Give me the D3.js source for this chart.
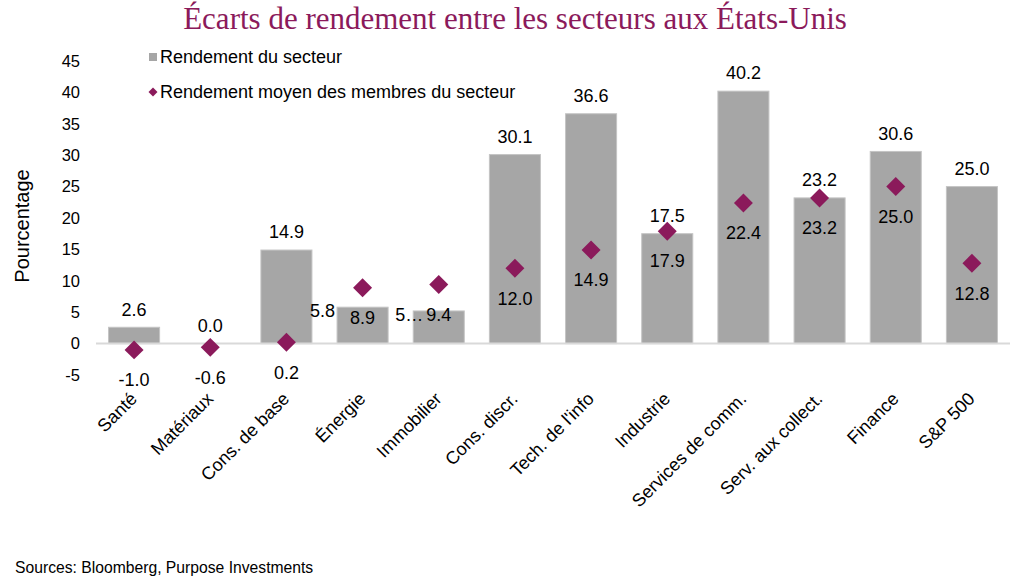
<!DOCTYPE html>
<html>
<head>
<meta charset="utf-8">
<script src="https://cdn.jsdelivr.net/npm/d3@7/dist/d3.min.js"></script>
<style>
  html, body { margin: 0; padding: 0; background: #fff; }
  svg { display: block; }
  text { font-family: "Liberation Sans", Arial, sans-serif; fill: #000; }
</style>
</head>
<body>
<svg id="chart" width="1024" height="586"></svg>
<script>
const categories = ["Santé", "Matériaux", "Cons. de base", "Énergie", "Immobilier", "Cons. discr.",
  "Tech. de l'info", "Industrie", "Services de comm.", "Serv. aux collect.", "Finance", "S&P 500"];
const sectorReturn = [2.6, 0.0, 14.9, 5.8, 5.2, 30.1, 36.6, 17.5, 40.2, 23.2, 30.6, 25.0];
const memberAvgReturn = [-1.0, -0.6, 0.2, 8.9, 9.4, 12.0, 14.9, 17.9, 22.4, 23.2, 25.0, 12.8];
const yTicks = [-5, 0, 5, 10, 15, 20, 25, 30, 35, 40, 45];
const seriesNames = ["Rendement du secteur", "Rendement moyen des membres du secteur"];
const titleText = "Écarts de rendement entre les secteurs aux États-Unis";
const yAxisTitle = "Pourcentage";
const sourceText = "Sources: Bloomberg, Purpose Investments";

const barColor = "#a6a6a6";
const markerColor = "#8b1a5b";

const svg = d3.select("#chart");

const x = d3.scaleBand().domain(categories).range([96, 1010]).paddingInner(0.33).paddingOuter(0.165);
const y = d3.scaleLinear().domain([-5, 45]).range([375, 61]);

// Title
svg.append("text")
  .attr("x", 515).attr("y", 29)
  .attr("text-anchor", "middle")
  .style("font-family", "'Liberation Serif', 'Times New Roman', serif")
  .style("font-size", "31px")
  .style("fill", markerColor)
  .text(titleText);

// Y tick labels
svg.append("g").selectAll("text").data(yTicks).join("text")
  .attr("x", 80).attr("y", d => y(d)).attr("dy", "0.35em")
  .attr("text-anchor", "end")
  .style("font-size", "16.5px")
  .text(d => d);

// Y axis title
svg.append("text")
  .attr("transform", `translate(29,${(y(45) + y(-5)) / 2 + 8}) rotate(-90)`)
  .attr("text-anchor", "middle")
  .style("font-size", "20px")
  .text(yAxisTitle);

// Bars
const idx = d3.range(categories.length);
svg.append("g").selectAll("rect").data(idx).join("rect")
  .attr("x", i => x(categories[i]))
  .attr("y", i => y(Math.max(0, sectorReturn[i])))
  .attr("width", x.bandwidth())
  .attr("height", i => Math.abs(y(sectorReturn[i]) - y(0)))
  .attr("fill", barColor)
  .attr("stroke", "#c4c4c4")
  .attr("stroke-width", 1);

// Zero axis line
svg.append("line")
  .attr("x1", 96).attr("x2", 1010)
  .attr("y1", y(0)).attr("y2", y(0))
  .attr("stroke", "#d9d9d9").attr("stroke-width", 2);

// Bar labels
const leftLabel = new Set(["Énergie", "Immobilier"]);
svg.append("g").selectAll("text").data(idx).join("text")
  .attr("x", i => {
    const c = categories[i];
    if (c === "Énergie") return x(c) - 2;
    if (c === "Immobilier") return x(c) + 10;
    return x(c) + x.bandwidth() / 2;
  })
  .attr("y", i => leftLabel.has(categories[i]) ? y(sectorReturn[i]) + 4 : y(sectorReturn[i]) - 18)
  .attr("dy", "0.35em")
  .attr("text-anchor", i => leftLabel.has(categories[i]) ? "end" : "middle")
  .style("font-size", "18px")
  .text(i => categories[i] === "Immobilier" ? sectorReturn[i].toFixed(1)[0] + "…" : sectorReturn[i].toFixed(1));

// Diamond markers
svg.append("g").selectAll("path").data(idx).join("path")
  .attr("d", d3.symbol().type(d3.symbolSquare).size(180))
  .attr("transform", i => `translate(${x(categories[i]) + x.bandwidth() / 2},${y(memberAvgReturn[i])}) rotate(45)`)
  .attr("fill", markerColor);

// Marker labels
svg.append("g").selectAll("text").data(idx).join("text")
  .attr("x", i => x(categories[i]) + x.bandwidth() / 2)
  .attr("y", i => y(memberAvgReturn[i]) + 30)
  .attr("dy", "0.35em")
  .attr("text-anchor", "middle")
  .style("font-size", "18px")
  .text(i => memberAvgReturn[i].toFixed(1));

// X category labels
svg.append("g").selectAll("text").data(categories).join("text")
  .attr("transform", d => `translate(${x(d) + x.bandwidth() / 2 + 4},${400}) rotate(-45)`)
  .attr("text-anchor", "end")
  .style("font-size", "18px")
  .text(d => d);

// Legend
svg.append("rect").attr("x", 149).attr("y", 53).attr("width", 8).attr("height", 8).attr("fill", barColor);
svg.append("text").attr("x", 160).attr("y", 57).attr("dy", "0.35em").style("font-size", "18px").text(seriesNames[0]);
svg.append("path")
  .attr("d", d3.symbol().type(d3.symbolSquare).size(40))
  .attr("transform", "translate(153,92) rotate(45)")
  .attr("fill", markerColor);
svg.append("text").attr("x", 160).attr("y", 92).attr("dy", "0.35em").style("font-size", "18px").text(seriesNames[1]);

// Source
svg.append("text").attr("x", 15).attr("y", 568).attr("dy", "0.35em").style("font-size", "15.7px").text(sourceText);
</script>
</body>
</html>
